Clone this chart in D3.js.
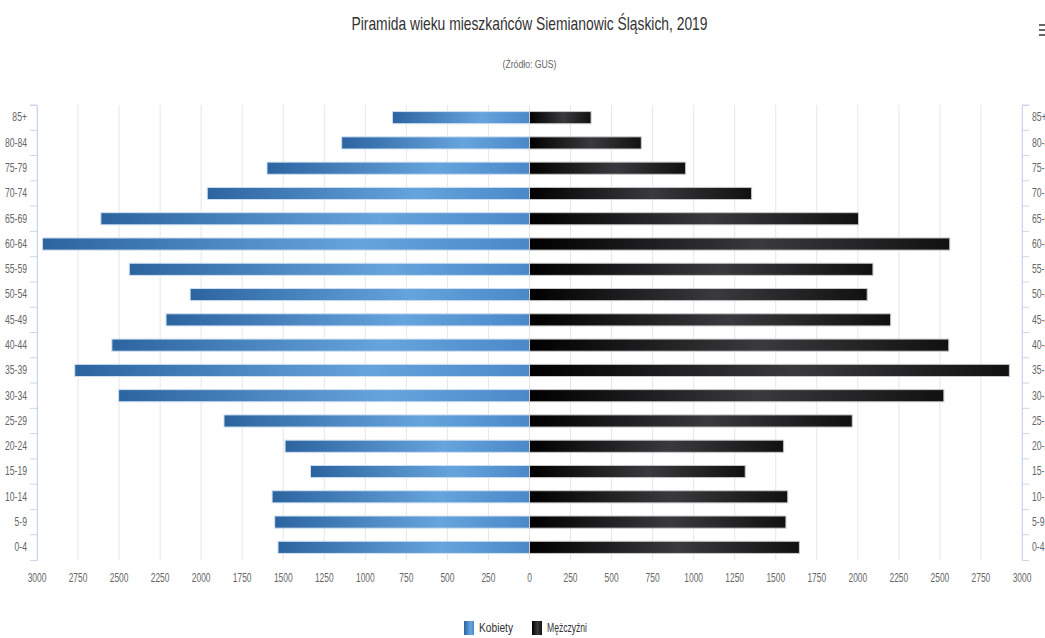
<!DOCTYPE html>
<html>
<head>
<meta charset="utf-8">
<script src="https://cdn.jsdelivr.net/npm/d3@7"></script>
<style>
  body { margin: 0; background: #fff; }
  svg text { font-family: "Liberation Sans", Arial, sans-serif; }
</style>
</head>
<body>
<svg id="chart" width="1045" height="638"></svg>
<script>
// grupy wiekowe od góry do dołu
var ageGroups = ["85+", "80-84", "75-79", "70-74", "65-69", "60-64", "55-59", "50-54", "45-49",
                 "40-44", "35-39", "30-34", "25-29", "20-24", "15-19", "10-14", "5-9", "0-4"];
var kobiety = [835, 1144, 1599, 1963, 2611, 2967, 2438, 2067, 2214,
               2544, 2770, 2503, 1861, 1489, 1334, 1568, 1552, 1532];
var mezczyzni = [375, 681, 951, 1353, 2004, 2560, 2092, 2057, 2200,
                 2554, 2923, 2524, 1966, 1548, 1314, 1573, 1562, 1644];
var xTicks = [3000, 2750, 2500, 2250, 2000, 1750, 1500, 1250, 1000, 750, 500, 250, 0];

var W = 1045;
var H = 638;
var plotLeft = 37, plotRight = 1022, plotTop = 105, plotBottom = 560;
var center = (plotLeft + plotRight) / 2;

var svg = d3.select('#chart');

// zwężenie tekstu w poziomie (czcionka w oryginale jest wąska)
function narrow(sel, k) {
    sel.each(function () {
        var t = d3.select(this);
        var x = +t.attr('x') || 0;
        t.attr('transform', 'translate(' + (x * (1 - k)) + ',0) scale(' + k + ',1)');
    });
    return sel;
}

var defs = svg.append('defs');
function addGradient(id, stops) {
    var g = defs.append('linearGradient').attr('id', id)
        .attr('x1', '0%').attr('x2', '100%').attr('y1', '0%').attr('y2', '0%');
    stops.forEach(function (s) {
        g.append('stop').attr('offset', s[0]).attr('stop-color', s[1]);
    });
}
addGradient('gradBlue', [['0%', '#2c64a0'], ['65%', '#66a4dd'], ['100%', '#4a88c8']]);
addGradient('gradBlack', [['0%', '#000000'], ['55%', '#3a3a3e'], ['100%', '#111']]);

// skale
var xLeft = d3.scaleLinear().domain([0, 3000]).range([center, plotLeft]);
var xRight = d3.scaleLinear().domain([0, 3000]).range([center, plotRight]);
var y = d3.scaleBand().domain(ageGroups).range([plotTop, plotBottom]).paddingInner(0.52).paddingOuter(0.26);

// siatka
var grid = svg.append('g');
xTicks.forEach(function (t) {
    grid.append('line')
        .attr('x1', xLeft(t)).attr('x2', xLeft(t))
        .attr('y1', plotTop).attr('y2', plotBottom)
        .style('stroke', '#e6e6e6');
    grid.append('line')
        .attr('x1', xRight(t)).attr('x2', xRight(t))
        .attr('y1', plotTop).attr('y2', plotBottom)
        .style('stroke', '#e6e6e6');
});

// słupki
svg.append('g').selectAll('rect')
    .data(kobiety)
    .enter()
    .append('rect')
    .attr('x', d => xLeft(d))
    .attr('y', (d, i) => y(ageGroups[i]))
    .attr('width', d => xLeft(0) - xLeft(d))
    .attr('height', y.bandwidth())
    .style('fill', 'url(#gradBlue)')
    .style('stroke', '#cfe0f2')
    .style('stroke-width', 1);

svg.append('g').selectAll('rect')
    .data(mezczyzni)
    .enter()
    .append('rect')
    .attr('x', xRight(0))
    .attr('y', (d, i) => y(ageGroups[i]))
    .attr('width', d => xRight(d) - xRight(0))
    .attr('height', y.bandwidth())
    .style('fill', 'url(#gradBlack)')
    .style('stroke', '#c8c8c8')
    .style('stroke-width', 1);

// osie
var yBand = d3.scaleBand().domain(ageGroups).range([plotTop, plotBottom]);
var axisL = svg.append('g').attr('transform', 'translate(' + plotLeft + ',0)')
    .call(d3.axisLeft(yBand).tickSize(7).tickPadding(3));
var axisR = svg.append('g').attr('transform', 'translate(' + plotRight + ',0)')
    .call(d3.axisRight(yBand).tickSize(7).tickPadding(3));
[axisL, axisR].forEach(function (a) {
    a.select('.domain').style('stroke', '#ccd6eb');
    a.selectAll('.tick line').style('stroke', '#ccd6eb');
    a.selectAll('.tick text').style('fill', '#666').style('font-size', '12px')
        .style('font-family', '"Liberation Sans", Arial, sans-serif');
    narrow(a.selectAll('.tick text'), 0.72);
});
// znaczniki na granicach kategorii
axisL.selectAll('.tick line').attr('transform', 'translate(0,' + (-yBand.step() / 2) + ')');
axisR.selectAll('.tick line').attr('transform', 'translate(0,' + (-yBand.step() / 2) + ')');

var xLabels = svg.append('g');
xTicks.forEach(function (t) {
    xLabels.append('text').attr('x', xLeft(t)).attr('y', 582).attr('text-anchor', 'middle')
        .style('fill', '#666').style('font-size', '12px').text(t);
    if (t > 0) {
        xLabels.append('text').attr('x', xRight(t)).attr('y', 582).attr('text-anchor', 'middle')
            .style('fill', '#666').style('font-size', '12px').text(t);
    }
});
narrow(xLabels.selectAll('text'), 0.7);

// tytuł
svg.append('text').attr('x', center).attr('y', 30).attr('text-anchor', 'middle')
    .style('fill', '#333').style('font-size', '19px')
    .attr('textLength', 356).attr('lengthAdjust', 'spacingAndGlyphs')
    .text('Piramida wieku mieszkańców Siemianowic Śląskich, 2019');
svg.append('text').attr('x', center).attr('y', 68).attr('text-anchor', 'middle')
    .style('fill', '#666').style('font-size', '11px')
    .attr('textLength', 54).attr('lengthAdjust', 'spacingAndGlyphs')
    .text('(Źródło: GUS)');

// menu
[25, 30, 35].forEach(function (yy) {
    svg.append('rect').attr('x', 1039).attr('y', yy - 1).attr('width', 6).attr('height', 2).style('fill', '#666');
});

// legenda
var legend = [['Kobiety', 'url(#gradBlue)', 464, 34], ['Mężczyźni', 'url(#gradBlack)', 532, 40]];
legend.forEach(function (l) {
    svg.append('rect').attr('x', l[2]).attr('y', 621).attr('width', 10).attr('height', 14)
        .style('fill', l[1]);
    svg.append('text').attr('x', l[2] + 15).attr('y', 632)
        .style('fill', '#333').style('font-size', '12px')
        .attr('textLength', l[3]).attr('lengthAdjust', 'spacingAndGlyphs').text(l[0]);
});
</script>
</body>
</html>
